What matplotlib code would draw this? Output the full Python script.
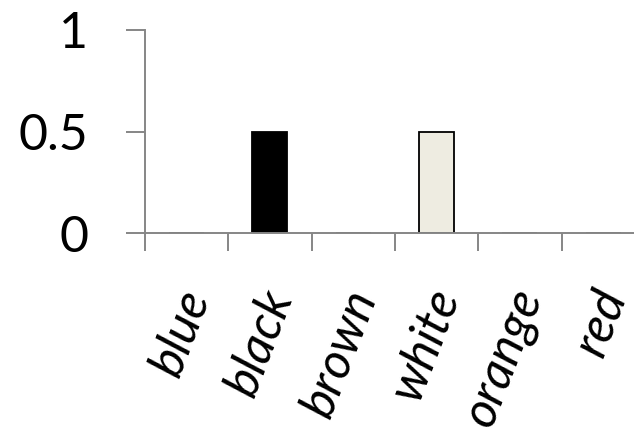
import numpy as np
import matplotlib
matplotlib.use("Agg")
import matplotlib.pyplot as plt
import matplotlib.transforms as mtransforms

# data
categories = ['blue', 'black', 'brown', 'white', 'orange', 'red']
values = [0, 0.5, 0, 0.5, 0, 0]
bar_fill = ['#4F81BD', 'black', '#8B5A2B', '#EEECE1', '#F79646', '#C0504D']
yticks = [0, 0.5, 1]
ytick_labels = ['0', '0.5', '1']

plt.rcParams['font.family'] = ['Lato', 'DejaVu Sans']

fig = plt.figure(figsize=(6.34, 4.37), dpi=100)
# axes runs a bit past the right edge, as in the cropped reference
ax = fig.add_axes([145 / 634, (437 - 233) / 437, 500 / 634, 203 / 437])

x = np.arange(len(categories)) + 0.5
ax.bar(x, values, width=0.42, color=bar_fill, edgecolor='black',
       linewidth=1.3, zorder=1)

ax.set_xlim(0, len(categories))
ax.set_ylim(0, 1)

grey = '#868686'
for side in ['top', 'right']:
    ax.spines[side].set_visible(False)
for side in ['left', 'bottom']:
    ax.spines[side].set_color(grey)
    ax.spines[side].set_linewidth(1.4)
    ax.spines[side].set_zorder(3)

# y axis
ax.set_yticks(yticks)
ax.set_yticklabels(ytick_labels)
ax.tick_params(axis='y', length=14, width=1.4, color=grey, pad=27,
               labelsize=36)

# x axis: tick marks between categories, labels at centres
ax.set_xticks(np.arange(len(categories) + 1), minor=True)
ax.set_xticks(x)
ax.set_xticklabels(categories, rotation=69, ha='right', va='center',
                   rotation_mode='anchor', style='italic', fontsize=36)
ax.tick_params(axis='x', which='minor', length=13, width=1.4, color=grey)
ax.tick_params(axis='x', which='major', length=0, pad=42)
offset = mtransforms.ScaledTranslation(10 / 100, 0, fig.dpi_scale_trans)
for lab in ax.get_xticklabels():
    lab.set_transform(lab.get_transform() + offset)

fig.savefig('out.png', dpi=100)
